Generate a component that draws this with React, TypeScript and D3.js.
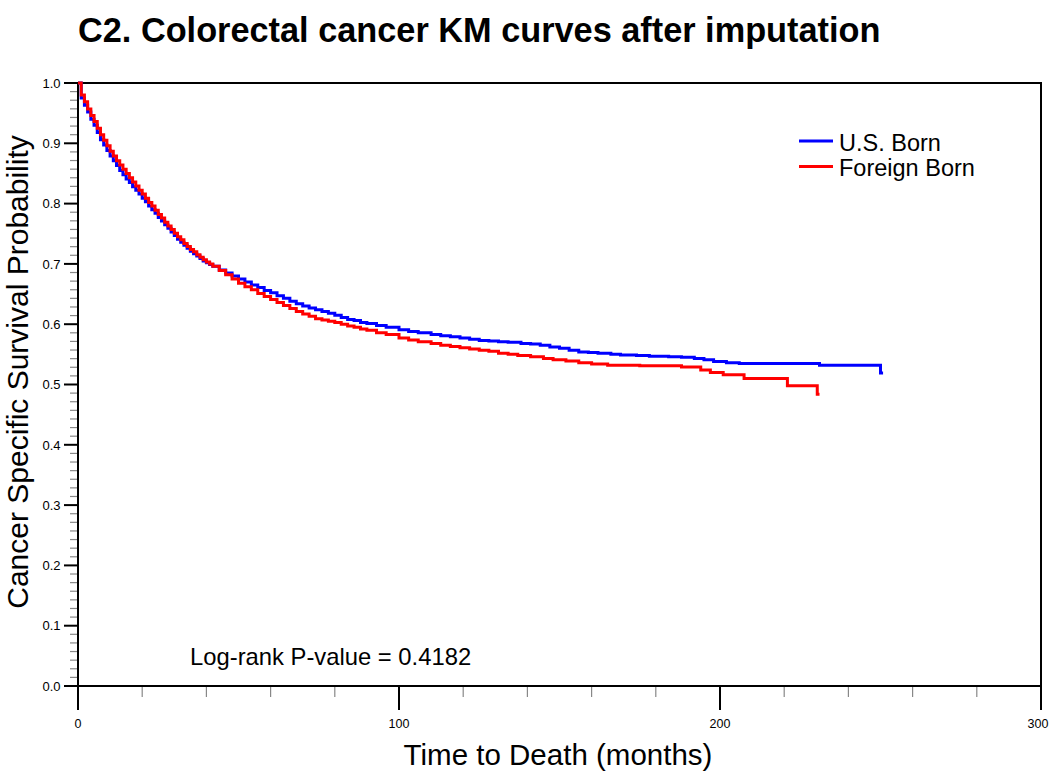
import React from "react";
import * as d3 from "d3";

const usBornTimes = [0, 1, 2, 3, 4, 5, 6, 7, 8, 9, 10, 11, 12, 13, 14, 15, 16, 17, 18, 19, 20, 21, 22, 23, 24, 25, 26, 27, 28, 29, 30, 31, 32, 33, 34, 35, 36, 37, 38, 39, 40, 41, 42, 44, 46, 48, 50, 52, 54, 56, 58, 60, 62, 64, 66, 68, 70, 72, 74, 76, 78, 80, 82, 84, 86, 88, 90, 93, 96, 100, 103, 106, 110, 113, 116, 119, 122, 125, 128, 131, 134, 138, 141, 144, 147, 150, 153, 156, 159, 162, 166, 169, 174, 178, 184, 188, 192, 195, 198, 202, 206, 231, 250, 250.8];
const usBornSurv = [1.0, 0.975, 0.963, 0.952, 0.94, 0.93, 0.918, 0.906, 0.897, 0.888, 0.879, 0.871, 0.863, 0.855, 0.848, 0.841, 0.835, 0.828, 0.822, 0.816, 0.809, 0.803, 0.796, 0.79, 0.784, 0.777, 0.771, 0.765, 0.759, 0.753, 0.747, 0.741, 0.736, 0.731, 0.726, 0.721, 0.717, 0.713, 0.709, 0.705, 0.702, 0.699, 0.696, 0.69, 0.685, 0.68, 0.675, 0.67, 0.665, 0.661, 0.656, 0.652, 0.647, 0.643, 0.638, 0.634, 0.63, 0.627, 0.624, 0.621, 0.618, 0.615, 0.611, 0.608, 0.606, 0.603, 0.601, 0.598, 0.595, 0.591, 0.588, 0.586, 0.583, 0.581, 0.579, 0.577, 0.575, 0.573, 0.572, 0.571, 0.57, 0.568, 0.567, 0.565, 0.562, 0.56, 0.557, 0.554, 0.553, 0.552, 0.55, 0.549, 0.548, 0.547, 0.546, 0.545, 0.543, 0.541, 0.538, 0.536, 0.535, 0.532, 0.519, 0.519];

const foreignTimes = [0, 1, 2, 3, 4, 5, 6, 7, 8, 9, 10, 11, 12, 13, 14, 15, 16, 17, 18, 19, 20, 21, 22, 23, 24, 25, 26, 27, 28, 29, 30, 31, 32, 33, 34, 35, 36, 37, 38, 39, 40, 41, 42, 44, 46, 48, 50, 52, 54, 56, 58, 60, 62, 64, 66, 68, 70, 72, 74, 76, 78, 80, 82, 84, 86, 88, 90, 93, 96, 100, 103, 106, 110, 113, 116, 119, 122, 125, 128, 131, 134, 137, 141, 145, 148, 152, 156, 160, 165, 175, 188, 194, 197, 201, 207.5, 221, 230.3, 231];
const foreignSurv = [1.0, 0.98, 0.969, 0.957, 0.946, 0.936, 0.925, 0.914, 0.905, 0.896, 0.887, 0.879, 0.871, 0.864, 0.857, 0.85, 0.843, 0.836, 0.829, 0.822, 0.816, 0.809, 0.802, 0.796, 0.789, 0.782, 0.776, 0.769, 0.763, 0.757, 0.751, 0.745, 0.74, 0.734, 0.729, 0.724, 0.72, 0.715, 0.711, 0.707, 0.703, 0.7, 0.696, 0.689, 0.682, 0.675, 0.668, 0.662, 0.657, 0.651, 0.646, 0.641, 0.636, 0.631, 0.626, 0.621, 0.617, 0.613, 0.609, 0.607, 0.605, 0.603, 0.6, 0.597, 0.595, 0.592, 0.59, 0.586, 0.583, 0.577, 0.574, 0.571, 0.568, 0.565, 0.563, 0.561, 0.559, 0.557, 0.555, 0.552, 0.55, 0.548, 0.546, 0.543, 0.541, 0.539, 0.536, 0.534, 0.532, 0.531, 0.529, 0.524, 0.52, 0.516, 0.51, 0.498, 0.484, 0.484];

const xMajorTicks = [0, 100, 200, 300];
const yMajorTicks = [0, 0.1, 0.2, 0.3, 0.4, 0.5, 0.6, 0.7, 0.8, 0.9, 1.0];

const seriesNames = ["U.S. Born", "Foreign Born"];
const seriesColors = ["#0000ff", "#ff0000"];

const FONT = "'Liberation Sans', Arial, sans-serif";

export default function App() {
  const left = 78, right = 1041, top = 83, bottom = 686;
  const x = d3.scaleLinear().domain([0, 300]).range([left, right]);
  const y = d3.scaleLinear().domain([0, 1]).range([bottom, top]);

  const line = d3
    .line<[number, number]>()
    .x((d) => x(d[0]))
    .y((d) => y(d[1]))
    .curve(d3.curveStepAfter);

  const usData: [number, number][] = usBornTimes.map((t, i) => [t, usBornSurv[i]]);
  const fbData: [number, number][] = foreignTimes.map((t, i) => [t, foreignSurv[i]]);

  const xMinor: number[] = [];
  for (let i = 0; i < 3; i++) {
    for (let k = 1; k < 5; k++) xMinor.push(xMajorTicks[i] + (k * 100) / 5);
  }
  const yMinor: number[] = [];
  for (let i = 0; i < 10; i++) {
    for (let k = 1; k < 7; k++) yMinor.push(yMajorTicks[i] + (k * 0.1) / 7);
  }

  return (
    <svg
      width={1050}
      height={774}
      style={{ position: "absolute", left: 0, top: 0, background: "#fff" }}
      fontFamily={FONT}
    >
      <rect x={0} y={0} width={1050} height={774} fill="#fff" />
      <text x={78} y={42} fontSize={34.3} fontWeight="bold" fill="#000">
        C2. Colorectal cancer KM curves after imputation
      </text>

      {/* minor ticks */}
      {xMinor.map((t) => (
        <line key={"xm" + t} x1={x(t)} x2={x(t)} y1={bottom} y2={bottom + 11} stroke="#888" strokeWidth={1.2} />
      ))}
      {yMinor.map((v, i) => (
        <line key={"ym" + i} x1={left - 8} x2={left} y1={y(v)} y2={y(v)} stroke="#888" strokeWidth={1.2} />
      ))}
      {/* major ticks */}
      {xMajorTicks.map((t) => (
        <g key={"xM" + t}>
          <line x1={x(t)} x2={x(t)} y1={bottom} y2={bottom + 24} stroke="#000" strokeWidth={2} />
          <text x={Math.min(x(t), 1038)} y={727.5} fontSize={12.5} textAnchor="middle" fill="#000">
            {t}
          </text>
        </g>
      ))}
      {yMajorTicks.map((v) => (
        <g key={"yM" + v}>
          <line x1={left - 14} x2={left} y1={y(v)} y2={y(v)} stroke="#000" strokeWidth={2} />
          <text x={60.5} y={y(v) + 4.7} fontSize={13} textAnchor="end" fill="#000">
            {v.toFixed(1)}
          </text>
        </g>
      ))}

      {/* frame */}
      <rect x={left} y={top} width={right - left} height={bottom - top} fill="none" stroke="#000" strokeWidth={2} />

      {/* curves */}
      <path d={line(usData) || ""} fill="none" stroke={seriesColors[0]} strokeWidth={3} />
      <path d={line(fbData) || ""} fill="none" stroke={seriesColors[1]} strokeWidth={3} />

      {/* legend */}
      {seriesNames.map((n, i) => (
        <g key={n}>
          <line x1={799} x2={833} y1={141 + i * 25.5} y2={141 + i * 25.5} stroke={seriesColors[i]} strokeWidth={3} />
          <text x={839} y={150.5 + i * 25.5} fontSize={23.5} fill="#000">
            {n}
          </text>
        </g>
      ))}

      <text x={190} y={665} fontSize={23.8} fill="#000">
        Log-rank P-value = 0.4182
      </text>

      <text x={558} y={765} fontSize={29.5} textAnchor="middle" fill="#000">
        Time to Death (months)
      </text>
      <text
        transform={`translate(28, 372) rotate(-90)`}
        fontSize={30}
        textAnchor="middle"
        fill="#000"
      >
        Cancer Specific Survival Probability
      </text>
    </svg>
  );
}
